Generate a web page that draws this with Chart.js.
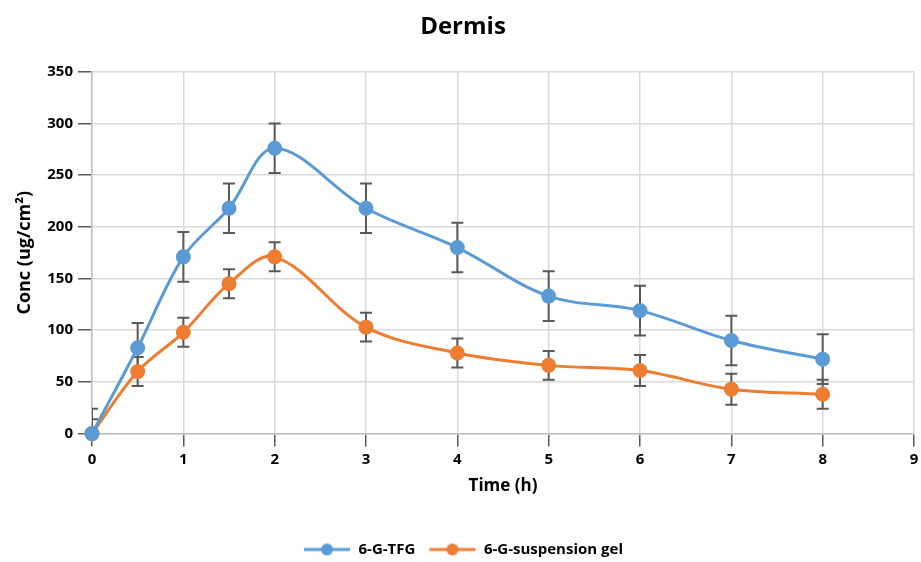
<!DOCTYPE html>
<html>
<head>
<meta charset="utf-8">
<script src="https://cdn.jsdelivr.net/npm/chart.js@4"></script>
<style>
html,body{margin:0;padding:0;background:#fff;}
#wrap{width:921px;height:562px;}
</style>
</head>
<body>
<div id="wrap"><canvas id="c" width="921" height="562"></canvas></div>
<script>
const timeH = [0, 0.5, 1, 1.5, 2, 3, 4, 5, 6, 7, 8];
const tfgConc = [0, 83, 171, 218, 276, 218, 180, 133, 119, 90, 72];
const tfgErr = [24, 24, 24, 24, 24, 24, 24, 24, 24, 24, 24];
const gelConc = [0, 60, 98, 145, 171, 103, 78, 66, 61, 43, 38];
const gelErr = [14, 14, 14, 14, 14, 14, 14, 14, 15, 15, 14];
const seriesNames = ['6-G-TFG', '6-G-suspension gel'];
const yTicks = [0, 50, 100, 150, 200, 250, 300, 350];
const xTicks = [0, 1, 2, 3, 4, 5, 6, 7, 8, 9];

const BLUE = '#5B9BD5', ORANGE = '#ED7D31';
const FONT = '"Open Sans", Lato, sans-serif';

function legendIcon(color) {
  const cv = document.createElement('canvas');
  cv.width = 48; cv.height = 14;
  const g = cv.getContext('2d');
  g.strokeStyle = color; g.lineWidth = 3;
  g.beginPath(); g.moveTo(1, 7); g.lineTo(47, 7); g.stroke();
  g.fillStyle = color;
  g.beginPath(); g.arc(24, 7, 6, 0, Math.PI * 2); g.fill();
  return cv;
}

const errs = [tfgErr, gelErr];
const errorBars = {
  id: 'errorBars',
  beforeDatasetsDraw(chart) {
    const ctx = chart.ctx, ys = chart.scales.y, area = chart.chartArea;
    ctx.save();
    ctx.beginPath();
    ctx.rect(area.left, area.top, area.right - area.left, area.bottom - area.top);
    ctx.clip();
    ctx.strokeStyle = '#595959';
    ctx.lineWidth = 2;
    chart.data.datasets.forEach((ds, i) => {
      const meta = chart.getDatasetMeta(i);
      meta.data.forEach((pt, j) => {
        const v = ds.data[j].y, e = errs[i][j];
        const x = pt.x;
        const top = ys.getPixelForValue(v + e), bot = ys.getPixelForValue(v - e);
        ctx.beginPath();
        ctx.moveTo(x, top); ctx.lineTo(x, bot);
        ctx.moveTo(x - 6, top); ctx.lineTo(x + 6, top);
        ctx.moveTo(x - 6, bot); ctx.lineTo(x + 6, bot);
        ctx.stroke();
      });
    });
    ctx.restore();
  }
};

new Chart(document.getElementById('c'), {
  type: 'line',
  data: {
    datasets: [
      {
        label: seriesNames[0],
        data: timeH.map((t, i) => ({x: t, y: tfgConc[i]})),
        borderColor: BLUE, backgroundColor: BLUE,
        borderWidth: 3, pointRadius: 6, pointHoverRadius: 6,
        pointStyle: 'circle', tension: 0.35, clip: false
      },
      {
        label: seriesNames[1],
        data: timeH.map((t, i) => ({x: t, y: gelConc[i]})),
        borderColor: ORANGE, backgroundColor: ORANGE,
        borderWidth: 3, pointRadius: 6, pointHoverRadius: 6,
        pointStyle: 'circle', tension: 0.35, clip: false
      }
    ]
  },
  options: {
    responsive: false,
    animation: false,
    layout: {autoPadding: false, padding: {left: 12, right: 7, top: 0, bottom: -5}},
    plugins: {
      title: {
        display: true, text: 'Dermis', color: '#000',
        font: {family: FONT, size: 24, weight: 'bold'},
        padding: {top: 13, bottom: 30}
      },
      legend: {
        position: 'bottom',
        labels: {
          usePointStyle: true, pointStyleWidth: 48, boxHeight: 14,
          color: '#000', padding: 13,
          font: {family: FONT, size: 15, weight: 'bold'},
          generateLabels(chart) {
            return chart.data.datasets.map((ds, i) => ({
              text: ds.label, pointStyle: legendIcon(ds.borderColor),
              fillStyle: ds.borderColor, strokeStyle: ds.borderColor,
              lineWidth: 0, hidden: false, datasetIndex: i
            }));
          }
        }
      },
      tooltip: {enabled: false}
    },
    scales: {
      x: {
        type: 'linear', min: 0, max: 9,
        afterBuildTicks(s) { s.ticks = xTicks.map(v => ({value: v})); },
        afterFit(s) { s.paddingRight = 0; },
        ticks: {color: '#000', font: {family: FONT, size: 15, weight: 'bold'}, padding: 4},
        grid: {color: '#D9D9D9', lineWidth: 1.5, tickLength: 13, tickColor: '#595959', tickWidth: 1.5},
        border: {color: '#BFBFBF', width: 1.5},
        title: {display: true, text: 'Time (h)', color: '#000', font: {family: FONT, size: 17, weight: 'bold'}, padding: {top: 3, bottom: 33}}
      },
      y: {
        min: 0, max: 350,
        afterBuildTicks(s) { s.ticks = yTicks.map(v => ({value: v})); },
        afterFit(s) { s.width = 80; },
        ticks: {color: '#000', font: {family: FONT, size: 15, weight: 'bold'}, padding: 5},
        grid: {color: '#D9D9D9', lineWidth: 1.5, tickLength: 14, tickColor: '#595959', tickWidth: 1.5},
        border: {color: '#BFBFBF', width: 1.5},
        title: {display: true, text: 'Conc (ug/cm²)', color: '#000', font: {family: FONT, size: 18, weight: 'bold'}, padding: {top: 2, bottom: 2}}
      }
    }
  },
  plugins: [errorBars]
});
</script>
</body>
</html>
